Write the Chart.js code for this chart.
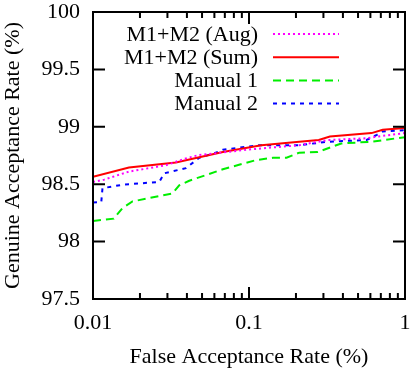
<!DOCTYPE html>
<html>
<head>
<meta charset="utf-8">
<script src="https://cdn.jsdelivr.net/npm/chart.js@4"></script>
<style>
  body { margin: 0; background: #fff; }
</style>
</head>
<body>
<canvas id="grafico" width="411" height="372"></canvas>
<script>
// valori (FAR in %, GAR in %)
const augX = [0.01, 0.0118, 0.017, 0.0293, 0.0394, 0.048, 0.0616, 0.096, 0.21, 0.32, 0.567, 0.66, 1];
const augY = [98.52, 98.54, 98.61, 98.665, 98.725, 98.755, 98.77, 98.80, 98.84, 98.885, 98.90, 98.915, 98.945];

const sumX = [0.01, 0.017, 0.034, 0.0414, 0.068, 0.12, 0.21, 0.28, 0.33, 0.61, 0.72, 1];
const sumY = [98.565, 98.645, 98.69, 98.715, 98.78, 98.84, 98.87, 98.885, 98.915, 98.945, 98.975, 98.99];

const man1X = [0.01, 0.0136, 0.0154, 0.0179, 0.0324, 0.0357, 0.0414, 0.068, 0.111, 0.142, 0.174, 0.21, 0.276, 0.39, 0.61, 1];
const man1Y = [98.18, 98.2, 98.29, 98.35, 98.42, 98.49, 98.53, 98.63, 98.71, 98.73, 98.73, 98.775, 98.78, 98.855, 98.87, 98.91];

const man2X = [0.01, 0.0113, 0.0115, 0.0154, 0.0266, 0.0286, 0.0394, 0.048, 0.06, 0.068, 0.117, 0.21, 0.32, 0.567, 0.66, 0.72, 1];
const man2Y = [98.34, 98.345, 98.465, 98.495, 98.52, 98.595, 98.64, 98.73, 98.77, 98.80, 98.84, 98.84, 98.87, 98.885, 98.93, 98.96, 98.97];

const xTicks = [0.01, 0.1, 1];
const yTicks = [97.5, 98, 98.5, 99, 99.5, 100];

const serif = "'Liberation Serif', 'Times New Roman', serif";

function punti(xs, ys) {
    return xs.map((x, i) => ({ x: x, y: ys[i] }));
}

// cornice, tacche interne stile gnuplot e legenda
const cornice = {
    id: 'cornice',
    afterDatasetsDraw(chart) {
        const { ctx, chartArea: a, scales } = chart;
        const x = scales.x, y = scales.y;
        ctx.save();
        ctx.strokeStyle = '#000';
        ctx.lineWidth = 2;
        ctx.setLineDash([]);
        ctx.beginPath();
        yTicks.forEach(v => {
            const py = y.getPixelForValue(v);
            ctx.moveTo(a.left, py); ctx.lineTo(a.left + 12, py);
            ctx.moveTo(a.right, py); ctx.lineTo(a.right - 12, py);
        });
        [0.01, 0.1].forEach(d => {
            for (let k = 1; k <= 10; k++) {
                const px = x.getPixelForValue(d * k);
                const len = (k === 1 || k === 10) ? 12 : 6;
                ctx.moveTo(px, a.bottom); ctx.lineTo(px, a.bottom - len);
                ctx.moveTo(px, a.top); ctx.lineTo(px, a.top + len);
            }
        });
        ctx.stroke();
        ctx.strokeRect(a.left, a.top, a.right - a.left, a.bottom - a.top);

        // legenda
        ctx.font = '22px ' + serif;
        ctx.fillStyle = '#000';
        ctx.textAlign = 'right';
        ctx.textBaseline = 'middle';
        chart.data.datasets.forEach((ds, i) => {
            const ry = 34 + i * 23.2;
            ctx.fillText(ds.label, 258, ry + 1);
            ctx.strokeStyle = ds.borderColor;
            ctx.lineWidth = ds.borderWidth;
            ctx.setLineDash(ds.borderDash || []);
            ctx.beginPath();
            ctx.moveTo(273, ry);
            ctx.lineTo(339, ry);
            ctx.stroke();
        });
        ctx.restore();
    }
};

new Chart(document.getElementById('grafico'), {
    type: 'scatter',
    data: {
        datasets: [
            {
                label: 'M1+M2 (Aug)',
                data: punti(augX, augY),
                borderColor: '#ff00ff',
                borderWidth: 2,
                borderDash: [2, 3]
            },
            {
                label: 'M1+M2 (Sum)',
                data: punti(sumX, sumY),
                borderColor: '#ff0000',
                borderWidth: 2
            },
            {
                label: 'Manual 1',
                data: punti(man1X, man1Y),
                borderColor: '#00ee00',
                borderWidth: 2,
                borderDash: [8, 5]
            },
            {
                label: 'Manual 2',
                data: punti(man2X, man2Y),
                borderColor: '#0000ff',
                borderWidth: 2,
                borderDash: [4, 5]
            }
        ]
    },
    options: {
        responsive: false,
        animation: false,
        showLine: true,
        elements: { point: { radius: 0 }, line: { tension: 0 } },
        layout: { padding: 0 },
        plugins: { legend: { display: false }, tooltip: { enabled: false } },
        scales: {
            x: {
                type: 'logarithmic',
                min: 0.01,
                max: 1,
                afterBuildTicks: s => { s.ticks = xTicks.map(v => ({ value: v })); },
                afterFit: s => { s.height = 73; s.paddingLeft = 0; s.paddingRight = 6; },
                grid: { display: false, drawTicks: false },
                border: { display: false },
                ticks: {
                    autoSkip: false,
                    maxRotation: 0,
                    padding: 11,
                    color: '#000',
                    font: { size: 22, family: serif },
                    callback: v => String(v)
                },
                title: {
                    display: true,
                    text: 'False Acceptance Rate (%)',
                    color: '#000',
                    font: { size: 22, family: serif },
                    padding: { top: 0, bottom: 2 }
                }
            },
            y: {
                min: 97.5,
                max: 100,
                afterBuildTicks: s => { s.ticks = yTicks.map(v => ({ value: v })); },
                afterFit: s => { s.width = 93; s.paddingTop = 12; s.paddingBottom = 0; },
                grid: { display: false, drawTicks: false },
                border: { display: false },
                ticks: {
                    padding: 13,
                    color: '#000',
                    font: { size: 22, family: serif },
                    callback: v => String(v)
                },
                title: {
                    display: true,
                    text: 'Genuine Acceptance Rate (%)',
                    color: '#000',
                    font: { size: 22, family: serif },
                    padding: { top: 0, bottom: 0 }
                }
            }
        }
    },
    plugins: [cornice]
});
</script>
</body>
</html>
